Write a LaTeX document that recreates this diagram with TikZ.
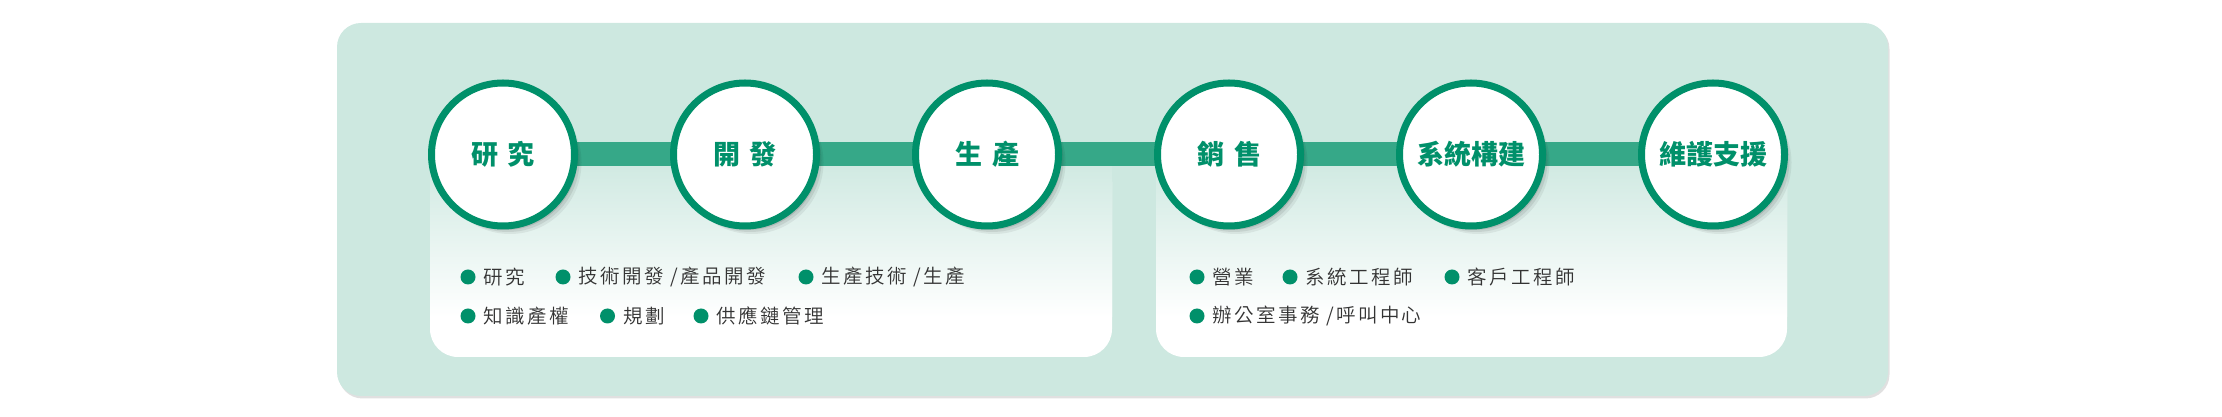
\documentclass[tikz,border=0pt]{standalone}
\usepackage{fontspec}
\setmainfont{Noto Sans CJK TC}
\newfontfamily\itemfont{Noto Sans CJK TC}[UprightFont={* DemiLight}, LetterSpace=12]
\newcommand{\slashsep}{\hspace{7pt}/\hspace{2pt}}
\usetikzlibrary{positioning,shadows}
\definecolor{mint}{HTML}{CDE8E0}
\definecolor{deepgreen}{HTML}{00906A}
\definecolor{bargreen}{HTML}{36A888}
\definecolor{textgray}{HTML}{333333}
\pgfdeclarelayer{panel}
\pgfdeclarelayer{bars}
\pgfsetlayers{panel,bars,main}

\begin{document}
\begin{tikzpicture}[
        x=1pt, y=1pt,
        node distance=92pt,
        stage/.style={circle, draw=deepgreen, line width=7pt, fill=white, minimum size=143pt, inner sep=0pt, text=deepgreen, font=\fontsize{27}{27}\selectfont\bfseries,
            drop shadow={shadow xshift=7pt, shadow yshift=-8pt, fill=black, opacity=0.06},
            drop shadow={shadow xshift=5pt, shadow yshift=-6pt, fill=black, opacity=0.08},
            drop shadow={shadow xshift=3pt, shadow yshift=-4pt, fill=black, opacity=0.10}},
        dot/.style={circle, fill=deepgreen, minimum size=15pt, inner sep=0pt},
        item/.style={inner sep=0pt, text=textgray, font=\fontsize{19.5}{19.5}\itemfont},
        line/.style={draw=bargreen, line width=24pt, shorten <=-6pt, shorten >=-6pt}
    ]
        \useasboundingbox (0,0) rectangle (2222,417);
        \begin{pgfonlayer}{panel}
            \fill[black!12, rounded corners=24pt] (338.5,18.5) rectangle (1889.5,392);
            \fill[mint, rounded corners=24pt] (337,21) rectangle (1888,394);
            \fill[white, rounded corners=28pt] (430,60) rectangle (1112,263);
            \shade[top color=mint, bottom color=white] (430,100) rectangle (1112,263);
            \fill[white, rounded corners=28pt] (1156,60) rectangle (1787,263);
            \shade[top color=mint, bottom color=white] (1156,100) rectangle (1787,263);
        \end{pgfonlayer}

        \node[stage] (research) at (503,262.5) {研\hspace{10pt}究};
        \node[stage, right=of research] (develop) {開\hspace{10pt}發};
        \node[stage, right=of develop] (produce) {生\hspace{10pt}產};
        \node[stage, right=of produce] (sales) {銷\hspace{10pt}售};
        \node[stage, right=of sales] (build) {系統構建};
        \node[stage, right=of build] (support) {維護支援};
        \begin{pgfonlayer}{bars}
            \draw[line] (research) -- (develop);
            \draw[line] (develop) -- (produce);
            \draw[line] (produce) -- (sales);
            \draw[line] (sales) -- (build);
            \draw[line] (build) -- (support);
        \end{pgfonlayer}

        \node[dot] (rnd-dot) at (468,140) {};
        \node[item, right=8pt of rnd-dot] (rnd) {研究};
        \node[dot] (tech-dot) at (563,140) {};
        \node[item, right=8pt of tech-dot] (tech) {技術開發\slashsep 產品開發};
        \node[dot] (prod-dot) at (806,140) {};
        \node[item, right=8pt of prod-dot] (prod) {生產技術\slashsep 生產};
        \node[dot] (ip-dot) at (468,101) {};
        \node[item, right=8pt of ip-dot] (ip) {知識產權};
        \node[dot] (plan-dot) at (607.5,101) {};
        \node[item, right=8pt of plan-dot] (plan) {規劃};
        \node[dot] (scm-dot) at (701,101) {};
        \node[item, right=8pt of scm-dot] (scm) {供應鏈管理};

        \node[dot] (biz-dot) at (1197,140) {};
        \node[item, right=8pt of biz-dot] (biz) {營業};
        \node[dot] (se-dot) at (1290,140) {};
        \node[item, right=8pt of se-dot] (se) {系統工程師};
        \node[dot] (ce-dot) at (1452,140) {};
        \node[item, right=8pt of ce-dot] (ce) {客戶工程師};
        \node[dot] (office-dot) at (1197,101) {};
        \node[item, right=8pt of office-dot] (office) {辦公室事務\slashsep 呼叫中心};
    \end{tikzpicture}
\end{document}
